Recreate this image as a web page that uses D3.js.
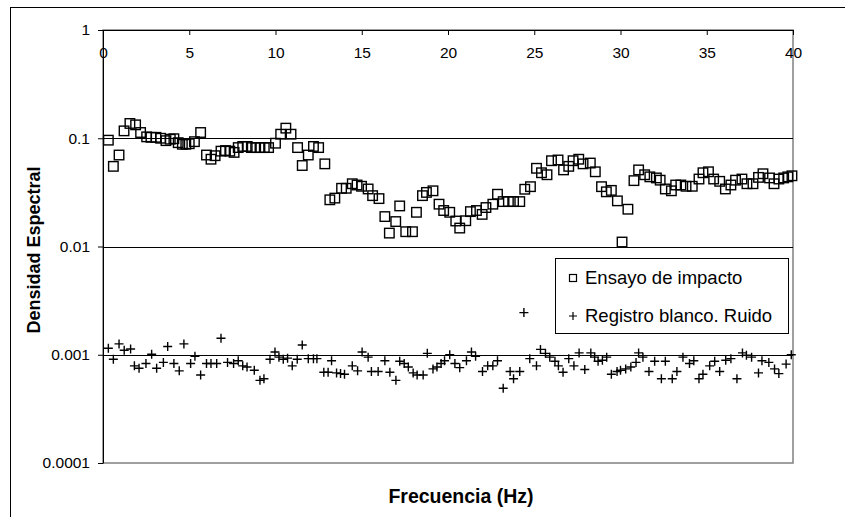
<!DOCTYPE html>
<html>
<head>
<meta charset="utf-8">
<script src="https://cdn.jsdelivr.net/npm/d3@7"></script>
<style>
    body { margin: 0; background: #fff; }
    text { font-family: Arial, "Liberation Sans", sans-serif; }
</style>
</head>
<body>
<div id="chart-container"></div>
<script>
// plot area inside the 845x517 window
let margin = {top: 30, right: 52, bottom: 54, left: 103},
    width = 845 - margin.left - margin.right,
    height = 517 - margin.top - margin.bottom;

let divId = "chart-container";

// Ensayo de impacto (squares)
let impactFreq = [0.31, 0.6, 0.93, 1.22, 1.56, 1.89, 2.18, 2.53, 2.78, 3.07, 3.34, 3.65, 3.9, 4.11, 4.36, 4.6, 4.8, 5.0, 5.3, 5.66,
    6.0, 6.26, 6.5, 6.84, 7.1, 7.35, 7.6, 7.84, 8.1, 8.36, 8.6, 8.85, 9.1, 9.35, 9.6, 10.0, 10.3, 10.6, 10.9, 11.28,
    11.55, 11.9, 12.2, 12.5, 12.86, 13.15, 13.44, 13.83, 14.1, 14.45, 14.73, 14.99, 15.37, 15.63, 16.0, 16.34, 16.6, 16.97, 17.2, 17.55,
    17.94, 18.17, 18.52, 18.75, 19.13, 19.48, 19.75, 20.1, 20.45, 20.68, 21.03, 21.3, 21.65, 21.98, 22.2, 22.6, 22.87, 23.2, 23.5, 23.8,
    24.16, 24.45, 24.78, 25.13, 25.42, 25.74, 26.0, 26.38, 26.7, 27.0, 27.25, 27.58, 27.83, 28.25, 28.54, 28.9, 29.18, 29.47, 29.82, 30.09,
    30.43, 30.78, 31.05, 31.4, 31.7, 32.08, 32.3, 32.6, 32.95, 33.2, 33.5, 33.8, 34.16, 34.55, 34.78, 35.1, 35.4, 35.75, 36.08, 36.4,
    36.67, 37.04, 37.33, 37.68, 38.0, 38.26, 38.64, 38.9, 39.18, 39.46, 39.7, 39.94];
let impactValue = [0.096, 0.055, 0.070, 0.117, 0.137, 0.133, 0.113, 0.103, 0.102, 0.102, 0.100, 0.095, 0.098, 0.099, 0.091, 0.088, 0.088, 0.089, 0.093, 0.113,
    0.070, 0.064, 0.069, 0.076, 0.077, 0.076, 0.074, 0.082, 0.084, 0.084, 0.082, 0.082, 0.082, 0.082, 0.082, 0.090, 0.109, 0.124, 0.109, 0.082,
    0.056, 0.070, 0.084, 0.082, 0.058, 0.027, 0.028, 0.0345, 0.0345, 0.038, 0.037, 0.036, 0.034, 0.0295, 0.0277, 0.0189, 0.0133, 0.017, 0.0237, 0.0137,
    0.0137, 0.0207, 0.0295, 0.0316, 0.0327, 0.0246, 0.0215, 0.0207, 0.0172, 0.0148, 0.0173, 0.021, 0.0215, 0.0198, 0.0229, 0.0246, 0.0304, 0.026, 0.026, 0.026,
    0.026, 0.0338, 0.0357, 0.0528, 0.048, 0.046, 0.062, 0.063, 0.051, 0.055, 0.062, 0.064, 0.058, 0.059, 0.049, 0.0357, 0.032, 0.033, 0.0264, 0.011,
    0.0221, 0.0406, 0.051, 0.046, 0.044, 0.043, 0.041, 0.034, 0.0327, 0.037, 0.037, 0.036, 0.036, 0.042, 0.048, 0.049, 0.042, 0.040, 0.034, 0.037,
    0.041, 0.042, 0.038, 0.038, 0.0435, 0.047, 0.043, 0.038, 0.042, 0.043, 0.044, 0.045];

// Registro blanco. Ruido (plus signs)
let noiseFreq = [0.31, 0.6, 0.93, 1.23, 1.6, 1.82, 2.09, 2.49, 2.82, 3.11, 3.5, 3.75, 4.11, 4.42, 4.69, 5.08, 5.33, 5.66, 6.0, 6.26,
    6.59, 6.84, 7.22, 7.57, 7.84, 8.1, 8.35, 8.77, 9.1, 9.33, 9.68, 9.97, 10.2, 10.45, 10.7, 10.97, 11.26, 11.55, 11.9, 12.2,
    12.4, 12.8, 13.05, 13.25, 13.54, 13.77, 14.0, 14.45, 14.76, 15.02, 15.37, 15.56, 15.95, 16.34, 16.63, 16.98, 17.2, 17.46, 17.7, 17.98,
    18.21, 18.56, 18.8, 19.13, 19.36, 19.6, 19.8, 20.1, 20.4, 20.68, 21.07, 21.36, 21.6, 22.0, 22.3, 22.6, 22.87, 23.2, 23.6, 23.8,
    24.16, 24.4, 24.74, 25.13, 25.36, 25.65, 25.9, 26.2, 26.4, 26.67, 27.0, 27.3, 27.6, 27.93, 28.28, 28.5, 28.7, 28.95, 29.2, 29.47,
    29.8, 30.0, 30.3, 30.6, 30.9, 31.05, 31.3, 31.65, 31.98, 32.37, 32.6, 33.0, 33.27, 33.62, 34.0, 34.25, 34.55, 34.78, 35.17, 35.46,
    35.75, 36.1, 36.4, 36.75, 37.07, 37.3, 37.6, 38.0, 38.2, 38.6, 38.93, 39.18, 39.6, 39.9];
let noiseValue = [0.00115, 0.00091, 0.00126, 0.0011, 0.00113, 0.00079, 0.00075, 0.00083, 0.00101, 0.00075, 0.00085, 0.00119, 0.00083, 0.00071, 0.00126, 0.00083, 0.00097, 0.00065, 0.00083, 0.00083,
    0.00083, 0.00142, 0.00085, 0.00083, 0.00088, 0.00079, 0.00077, 0.00072, 0.00058, 0.0006, 0.00091, 0.00106, 0.00095, 0.00091, 0.00093, 0.00079, 0.00091, 0.00123, 0.00092, 0.00092,
    0.00092, 0.00069, 0.00069, 0.00088, 0.00068, 0.00067, 0.00066, 0.00079, 0.00071, 0.00106, 0.00095, 0.0007, 0.0007, 0.00088, 0.00069, 0.00058, 0.00087, 0.00083, 0.00077, 0.00068,
    0.00065, 0.00065, 0.00103, 0.00074, 0.00077, 0.00083, 0.00088, 0.001, 0.00083, 0.00076, 0.00088, 0.00106, 0.00097, 0.0007, 0.00079, 0.00079, 0.00088, 0.00049, 0.0007, 0.0006,
    0.0007, 0.00245, 0.00092, 0.00079, 0.00112, 0.00103, 0.00095, 0.00087, 0.00079, 0.00069, 0.00092, 0.00079, 0.00104, 0.00073, 0.00104, 0.00095, 0.00087, 0.00089, 0.00095, 0.00066,
    0.0007, 0.00072, 0.00074, 0.00077, 0.00085, 0.00104, 0.00095, 0.0007, 0.00087, 0.0006, 0.00087, 0.0006, 0.0007, 0.00095, 0.00083, 0.00088, 0.0006, 0.00066, 0.00079, 0.00087,
    0.0007, 0.00089, 0.00092, 0.0006, 0.00104, 0.00099, 0.00095, 0.00068, 0.00088, 0.00085, 0.00074, 0.00067, 0.00082, 0.001];

let xTicks = [0, 5, 10, 15, 20, 25, 30, 35, 40];
let yTicks = [0.0001, 0.001, 0.01, 0.1, 1];
let yTickLabels = ["0.0001", "0.001", "0.01", "0.1", "1"];
let seriesNames = ["Ensayo de impacto", "Registro blanco. Ruido"];

let svgRoot = d3.select("#" + divId)
    .append("svg")
    .attr("width", 845)
    .attr("height", 517);

// outer chart border (runs off the right and bottom edges)
svgRoot.append("rect")
    .attr("x", 10.5)
    .attr("y", 7.5)
    .attr("width", 900)
    .attr("height", 600)
    .style("fill", "none")
    .style("stroke", "#000")
    .style("stroke-width", 1);

let svg = svgRoot.append("g")
    .attr("transform", "translate(" + margin.left + "," + margin.top + ")");

let x = d3.scaleLinear()
    .domain([0, 40])
    .range([0, width]);

let y = d3.scaleLog()
    .domain([0.0001, 1])
    .range([height, 0]);

// plot area border (right + bottom grey)
svg.append("rect")
    .attr("x", 0)
    .attr("y", 0)
    .attr("width", width)
    .attr("height", height)
    .style("fill", "none")
    .style("stroke", "#808080")
    .style("stroke-width", 1.5);

// horizontal gridlines
svg.selectAll("line.grid")
    .data(yTicks.filter(d => d > 0.0001 && d < 1))
    .enter()
    .append("line")
    .attr("class", "grid")
    .attr("x1", 0)
    .attr("x2", width)
    .attr("y1", d => Math.round(y(d)) + 0.5)
    .attr("y2", d => Math.round(y(d)) + 0.5)
    .style("stroke", "#000")
    .style("stroke-width", 1);

// X axis on top, labels inside the plot
let xAxis = d3.axisTop(x)
    .tickValues(xTicks)
    .tickSize(-5)
    .tickPadding(-18)
    .tickFormat(d3.format("d"));
let gx = svg.append("g")
    .attr("class", "x axis")
    .call(xAxis);
gx.select(".domain").style("stroke", "#000");
gx.selectAll(".tick line").style("stroke", "#000");
gx.selectAll(".tick text")
    .attr("dy", "0.32em")
    .attr("y", 23)
    .style("font-size", "15.5px")
    .style("fill", "#000");

// Y axis (log)
let yAxis = d3.axisLeft(y)
    .tickValues(yTicks)
    .tickSize(5)
    .tickSizeOuter(0)
    .tickPadding(8)
    .tickFormat((d, i) => yTickLabels[i]);
let gy = svg.append("g")
    .attr("class", "y axis")
    .call(yAxis);
gy.select(".domain").style("stroke", "#000");
gy.selectAll(".tick line").style("stroke", "#000");
gy.selectAll(".tick text")
    .style("font-size", "15.5px")
    .style("fill", "#000");

// squares
let impactData = impactFreq.map((f, i) => ({f: f, v: impactValue[i]}));
let sq = 9.5;
svg.selectAll("rect.impact")
    .data(impactData)
    .enter()
    .append("rect")
    .attr("class", "impact")
    .attr("x", d => x(d.f) - sq / 2)
    .attr("y", d => y(d.v) - sq / 2)
    .attr("width", sq)
    .attr("height", sq)
    .style("fill", "none")
    .style("stroke", "#000")
    .style("stroke-width", 1.4);

// plus signs
let noiseData = noiseFreq.map((f, i) => ({f: f, v: noiseValue[i]}));
let pl = 4.5;
svg.selectAll("path.noise")
    .data(noiseData)
    .enter()
    .append("path")
    .attr("class", "noise")
    .attr("d", d => {
        let cx = x(d.f), cy = y(d.v);
        return "M" + (cx - pl) + "," + cy + "H" + (cx + pl) + "M" + cx + "," + (cy - pl) + "V" + (cy + pl);
    })
    .style("fill", "none")
    .style("stroke", "#000")
    .style("stroke-width", 1.4);

// axis titles
svgRoot.append("text")
    .attr("x", 461)
    .attr("y", 503)
    .style("text-anchor", "middle")
    .style("font-weight", "bold")
    .style("font-size", "19.5px")
    .text("Frecuencia (Hz)");

svgRoot.append("text")
    .attr("transform", "translate(40, 250) rotate(-90)")
    .style("text-anchor", "middle")
    .style("font-weight", "bold")
    .style("font-size", "18px")
    .text("Densidad Espectral");

// legend
let legend = svgRoot.append("g")
    .attr("transform", "translate(555, 258)");
legend.append("rect")
    .attr("x", 0.5)
    .attr("y", 0.5)
    .attr("width", 233)
    .attr("height", 75)
    .style("fill", "#fff")
    .style("stroke", "#000")
    .style("stroke-width", 1);
legend.append("rect")
    .attr("x", 14.5)
    .attr("y", 16.5)
    .attr("width", 7)
    .attr("height", 7)
    .style("fill", "none")
    .style("stroke", "#000")
    .style("stroke-width", 1.2);
legend.append("path")
    .attr("d", "M14,58H22M18,54V62")
    .style("stroke", "#000")
    .style("stroke-width", 1.2);
legend.selectAll("text.leg")
    .data(seriesNames)
    .enter()
    .append("text")
    .attr("class", "leg")
    .attr("x", 30)
    .attr("y", (d, i) => 20 + i * 38)
    .attr("dy", "0.35em")
    .style("font-size", "18.5px")
    .text(d => d);
</script>
</body>
</html>
